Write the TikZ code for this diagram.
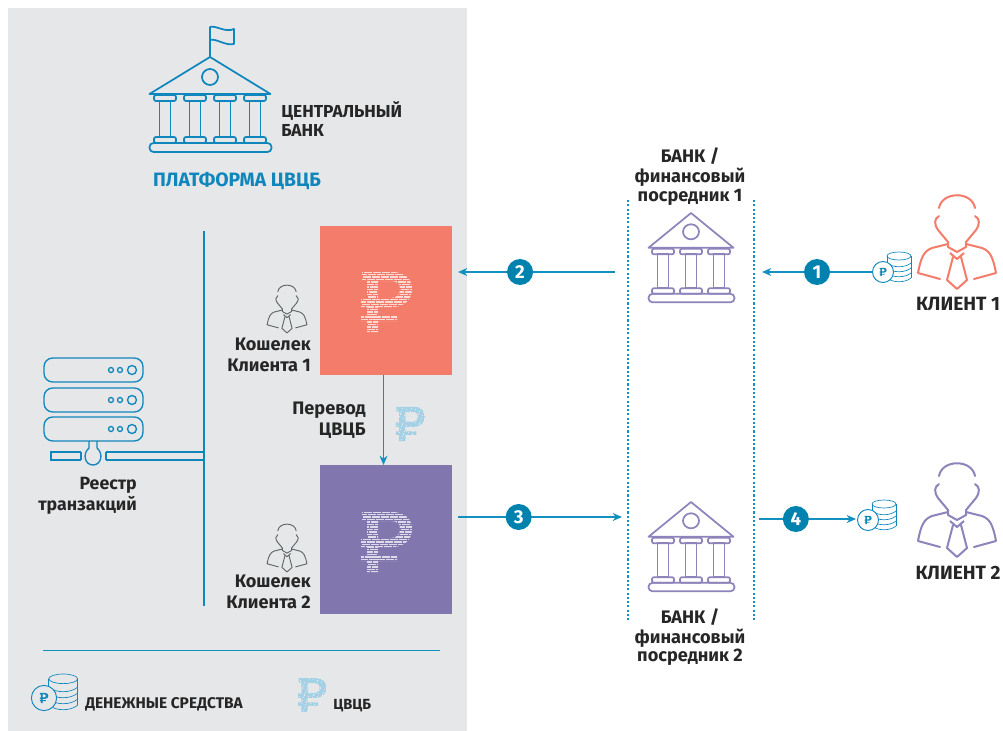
\documentclass[tikz,border=0pt]{standalone}
\usepackage{fontspec}
\usepackage{tikz}
\usetikzlibrary{arrows.meta}
\setmainfont{Fira Sans}
\definecolor{PanelGrey}{HTML}{E6E7E9}
\definecolor{CbdcBlue}{HTML}{0F86BC}
\definecolor{FlowBlue}{HTML}{1290BF}
\definecolor{StepBlue}{HTML}{0082AE}
\definecolor{WalletRed}{HTML}{F47C6B}
\definecolor{WalletViolet}{HTML}{8276AE}
\definecolor{BankViolet}{HTML}{8E83BA}
\definecolor{SketchGrey}{HTML}{5F6668}
\definecolor{LabelInk}{HTML}{262626}
\newcommand{\RublePath}{(-24,-30) -- (6,-30) .. controls (19,-30) and (26,-23) .. (26,-13) .. controls (26,-3) and (19,5) .. (6,5) -- (-8,5) -- (-8,13) -- (11,13) -- (11,19) -- (-8,19) -- (-8,30) -- (-19,30) -- (-19,19) -- (-25,19) -- (-25,13) -- (-19,13) -- (-19,5) -- (-25,5) -- (-25,-3) -- (-19,-3) -- (-19,-22) -- (-24,-22) -- cycle (-8,-21) -- (5,-21) .. controls (11,-21) and (14,-18) .. (14,-13) .. controls (14,-8) and (11,-4) .. (5,-4) -- (-8,-4) -- cycle}
\tikzset{/Cbdc/label/.style={
	inner sep=0, text=LabelInk, font=\fontsize{13.6}{15.6}\selectfont\bfseries
}}
\tikzset{/Cbdc/wallet/.style={
	shape=rectangle, inner sep=0, minimum width=99pt, minimum height=111.75pt
}}
\tikzset{/Cbdc/step/.style={
	shape=circle, fill=StepBlue, text=white, inner sep=0, minimum size=19.5pt, font=\fontsize{14}{14}\selectfont\bfseries
}}
\tikzset{/Cbdc/flow/.style={
	draw=FlowBlue, line width=.9pt, ->
}}
\tikzset{pics/bank/.style n args={3}{code={
	\draw[#1, line width=1.3pt, line join=round] (-#2,37) -- (0,0) -- (#2,37) -- cycle (0,20) circle (8);
	\foreach \c in {#3} {
		\draw[#1, line width=1.3pt, fill=none] (\c-5.5,44) rectangle (\c+5.5,80);
		\draw[#1, line width=1.3pt, rounded corners=1.5pt] (\c-11,38) rectangle (\c+11,44);
		\draw[#1, line width=1.3pt, rounded corners=1.5pt] (\c-11,80) rectangle (\c+11,86);
	}
	\draw[#1, line width=1.3pt, rounded corners=3pt] (-#2,86) rectangle (#2+1,95);
}}}
\tikzset{pics/client/.style 2 args={code={
	\foreach \s in {1,-1} {
		\draw[#1, line width=#2, line join=round, line cap=round] (\s*18,21) .. controls (\s*23,24) and (\s*23,29) .. (\s*19,35) -- (\s*9,47) -- (\s*9,52) -- (0,57);
		\draw[#1, line width=#2, line join=round, line cap=round] (\s*9,49) -- (\s*25,53) .. controls (\s*33,56) and (\s*36,62) .. (\s*39,78) -- (\s*17,84);
	}
	\draw[#1, line width=#2, line cap=round] (-18,13) .. controls (-15,-4) and (15,-4) .. (18,13);
	\draw[#1, line width=#2, line join=round] (-7,58) -- (0,64) -- (7,58) (-4,62) -- (-10,85) -- (0,94) -- (10,85) -- (4,62);
}}}
\tikzset{pics/ruble/.style 2 args={code={
	\begin{scope}[even odd rule]
		\clip \RublePath;
		\foreach \rowY [count=\rowN] in {-30,-27.5,...,30} {
			\pgfmathsetmacro{\rowPhase}{mod(\rowN*3.7,6.7)}
			\draw[#1, line width=#2, dash pattern=on 6pt off .7pt, dash phase=\rowPhase pt] (-26,\rowY) -- (27,\rowY);
		}
	\end{scope}
}}}
\tikzset{pics/coins/.style={code={
	\foreach \h in {6,1,-4,-9} {
		\draw[CbdcBlue, line width=.5pt] (4,\h) .. controls (10,\h+5) and (22,\h+5) .. (28,\h);
	}
	\draw[CbdcBlue, line width=.5pt] (16,-16) ellipse (12 and 4);
	\draw[CbdcBlue, line width=.5pt] (4,-16) -- (4,-10) (28,-16) -- (28,6);
	\draw[CbdcBlue, line width=.7pt, fill=#1] (0,0) circle (10.5);
	\begin{scope}[scale=.14]
		\fill[CbdcBlue, even odd rule] \RublePath;
	\end{scope}
}}}
\begin{document}
\begin{tikzpicture}[x=.75pt, y=-.75pt, >={Stealth[length=7pt, width=6pt]}]
			\useasboundingbox (0,0) rectangle (1003,731);
			\fill[white] (0,0) rectangle (1003,731);
			\fill[PanelGrey] (8,8) rectangle (467,731);
			% central bank
			\path (210,57) pic {bank={CbdcBlue}{60.5}{-45,-15,15,45}};
			\draw[CbdcBlue, line width=1.3pt, line join=round] (210,57) -- (210,27) .. controls (216,25) and (225,33) .. (234,29) -- (234,44) .. controls (225,46) and (216,38) .. (210,40);
			\path (281,111) node[/Cbdc/label, anchor=west, font=\fontsize{13}{15}\selectfont\bfseries] (cbLine1) {ЦЕНТРАЛЬНЫЙ};
			\path (281,130) node[/Cbdc/label, anchor=west, font=\fontsize{13}{15}\selectfont\bfseries] (cbLine2) {БАНК};
			\path (237,181) node[/Cbdc/label, text=CbdcBlue, font=\fontsize{14.5}{16}\selectfont\bfseries] (platform) {ПЛАТФОРМА ЦВЦБ};
			% ledger
			\foreach \y in {358, 388, 417} {
				\draw[CbdcBlue, line width=1pt, rounded corners=6.5pt] (44,\y) rectangle (143,\y+24);
				\draw[CbdcBlue, line width=1pt] (111,\y+12) circle (2.5) (120,\y+12) circle (2.5) (132,\y+12) circle (4.5);
			}
			\coordinate (busTop) at (204,231);
			\coordinate (busEnd) at (204,606);
			\draw[CbdcBlue, line width=1.5pt] (busTop) -- (busEnd);
			\draw[CbdcBlue, line width=1pt] (89,441) -- (89,448) (97,441) -- (97,448) (89,448) .. controls (82,454) and (85,465) .. (93,465) .. controls (101,465) and (104,454) .. (97,448);
			\draw[CbdcBlue, line width=1pt] (81,452) -- (51,452) -- (51,460) -- (81,460) (106,452) -- (204,452) (106,460) -- (204,460) (106,452) -- (106,460) (81,452) -- (81,460);
			\path (137,485) node[/Cbdc/label, anchor=east, font=\fontsize{13.3}{15}\selectfont\fontseries{sb}\selectfont] (ledgerLine1) {Реестр};
			\path (137,505) node[/Cbdc/label, anchor=east, font=\fontsize{13.3}{15}\selectfont\fontseries{sb}\selectfont] (ledgerLine2) {транзакций};
			% wallets
			\path (386,300.5) node[/Cbdc/wallet, fill=WalletRed] (wallet1) {};
			\path (386,539.5) node[/Cbdc/wallet, fill=WalletViolet] (wallet2) {};
			\path (386,302) pic {ruble={white!72!WalletRed}{1.15pt}};
			\path (386,542) pic {ruble={white!72!WalletViolet}{1.15pt}};
			\path (287,285) pic[scale=.51] {client={SketchGrey}{.7pt}};
			\path (287,524) pic[scale=.51] {client={SketchGrey}{.7pt}};
			\path (311,344) node[/Cbdc/label, anchor=east] (wallet1Line1) {Кошелек};
			\path (311,365) node[/Cbdc/label, anchor=east] (wallet1Line2) {Клиента 1};
			\path (311,581) node[/Cbdc/label, anchor=east] (wallet2Line1) {Кошелек};
			\path (311,602) node[/Cbdc/label, anchor=east] (wallet2Line2) {Клиента 2};
			\path (366,410) node[/Cbdc/label, anchor=east] (moveLine1) {Перевод};
			\path (366,431) node[/Cbdc/label, anchor=east] (moveLine2) {ЦВЦБ};
			\path (410,424) pic[scale=.57] {ruble={CbdcBlue!38!white}{1.3pt}};
			\coordinate (moveOut) at (383.5,375);
			\coordinate (moveIn) at (383.5,465);
			\draw[/Cbdc/flow] (moveOut) -- (moveIn);
			% banks and clients
			\path (691,213) pic[yscale=.94] {bank={BankViolet}{42.5}{-28,0,28}};
			\path (691,502) pic[yscale=.94] {bank={BankViolet}{42.5}{-28,0,28}};
			\coordinate (railLTop) at (628,200);
			\coordinate (railLEnd) at (628,620);
			\coordinate (railRTop) at (754,200);
			\coordinate (railREnd) at (754,620);
			\draw[FlowBlue, line width=1.4pt, dash pattern=on 1.6pt off 1.6pt] (railLTop) -- (railLEnd);
			\draw[FlowBlue, line width=1.4pt, dash pattern=on 1.6pt off 1.6pt] (railRTop) -- (railREnd);
			\foreach \y/\n/\t in {156/a/{БАНК /}, 177/b/финансовый, 197/c/посредник 1, 617/d/{БАНК /}, 638/e/финансовый, 657/f/посредник 2} {
				\path (690,\y) node[/Cbdc/label] (bankLine\n) {\t};
			}
			\path (957,195) pic {client={WalletRed}{1.5pt}};
			\path (957,463) pic {client={BankViolet}{1.5pt}};
			\path (958,304) node[/Cbdc/label, font=\fontsize{14.4}{16}\selectfont\bfseries] (client1) {КЛИЕНТ 1};
			\path (958,573) node[/Cbdc/label, font=\fontsize{14.4}{16}\selectfont\bfseries] (client2) {КЛИЕНТ 2};
			\path (883,272) pic {coins=white};
			\path (868,520) pic {coins=white};
			% numbered flows
			\coordinate (s1From) at (872,272);
			\coordinate (s1To) at (762,272);
			\coordinate (s2From) at (615,272);
			\coordinate (s2To) at (458,272);
			\coordinate (s3From) at (458,517);
			\coordinate (s3To) at (622,517);
			\coordinate (s4From) at (759,519);
			\coordinate (s4To) at (856,519);
			\draw[/Cbdc/flow] (s1From) -- node[/Cbdc/step, pos=.5] (step1) {1} (s1To);
			\draw[/Cbdc/flow] (s2From) -- node[/Cbdc/step, pos=.605] (step2) {2} (s2To);
			\draw[/Cbdc/flow] (s3From) -- node[/Cbdc/step, pos=.37] (step3) {3} (s3To);
			\draw[/Cbdc/flow] (s4From) -- node[/Cbdc/step, pos=.38] (step4) {4} (s4To);
			% legend
			\coordinate (ruleL) at (43,650);
			\coordinate (ruleR) at (440,650);
			\draw[FlowBlue, line width=.7pt] (ruleL) -- (ruleR);
			\path (44,698) pic[scale=1.2] {coins=PanelGrey};
			\path (312,695) pic[scale=.56] {ruble={CbdcBlue!38!white}{1.3pt}};
			\path (85,704) node[/Cbdc/label, anchor=west, font=\fontsize{11.6}{12}\selectfont\bfseries] (legendMoney) {ДЕНЕЖНЫЕ СРЕДСТВА};
			\path (333,706) node[/Cbdc/label, anchor=west, font=\fontsize{11}{12}\selectfont\bfseries] (legendCbdc) {ЦВЦБ};
		\end{tikzpicture}
\end{document}
